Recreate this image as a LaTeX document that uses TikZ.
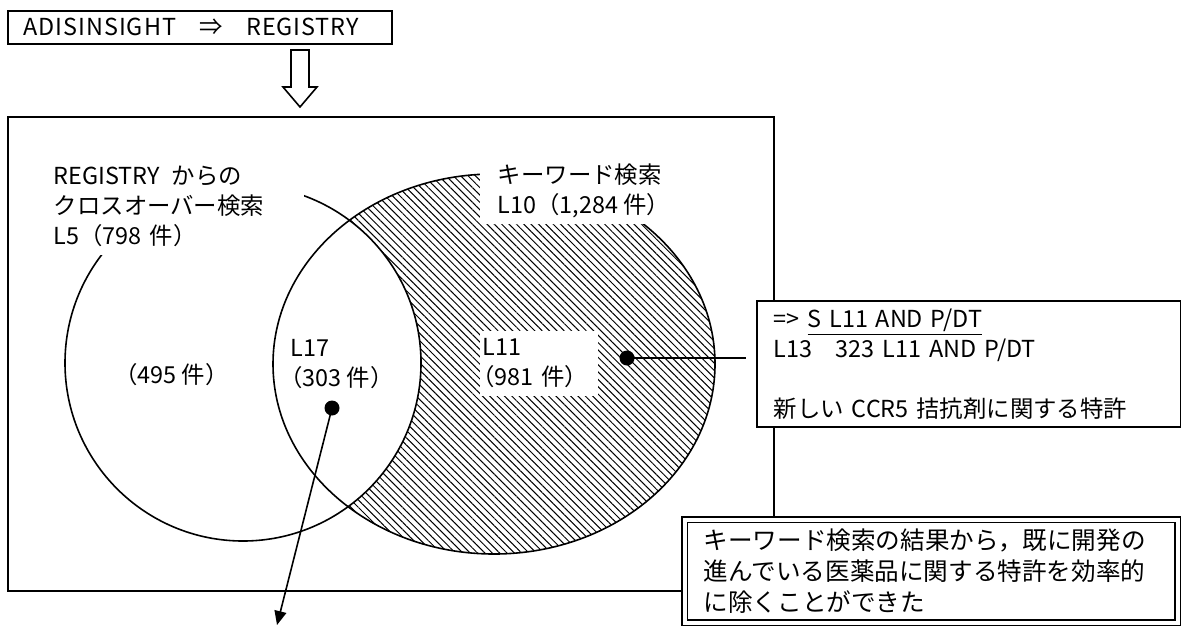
\documentclass[tikz,border=0pt]{standalone}
\usepackage{fontspec}
\setmainfont{Noto Sans CJK JP}
\usetikzlibrary{positioning,patterns.meta,arrows.meta}
\newcommand{\parsx}{\leavevmode\kern-.5em（}

\begin{document}
\begin{tikzpicture}[
    x=0.5pt, y=-0.5pt,
    line width=0.8pt,
    every node/.style={font=\fontsize{11.7}{15}\selectfont, inner sep=0pt, align=left},
    riquadro/.style={draw, fill=white, anchor=north west},
    etichetta/.style={fill=white, anchor=north west},
    tratteggio/.style={pattern={Lines[angle=-45, distance=2.6pt, line width=0.5pt]}},
    punto/.style={circle, fill, minimum size=7.5pt}
]
\useasboundingbox (0,0) rectangle (1181,627);

% Origine della ricerca
\node[riquadro, inner xsep=8pt, text width=176pt, minimum height=16.5pt] (sorgente) at (7,10)
    {\addfontfeatures{LetterSpace=4}ADISINSIGHT\quad ⇒\quad REGISTRY};
\draw[fill=white] (291,50) -- (291,87) -- (283,87) -- (300,107) -- (317,87) -- (309,87) -- (309,50) -- cycle;

% Riquadro principale
\draw (8,117) rectangle (774,591);

% Diagramma di Venn
\path[tratteggio] (494,364) ellipse [x radius=221, y radius=190];
\fill[white] (243,363) circle [radius=178];
\draw (494,364) ellipse [x radius=221, y radius=190];
\draw (243,363) circle [radius=178];

\node[etichetta, inner xsep=2.5pt, inner ysep=4pt, text width=122.5pt] (crossover) at (48,157)
    {REGISTRY\enspace からの\\ クロスオーバー検索\\ L5（798 件）};
\node[etichetta, inner xsep=9pt, inner ysep=3pt] (parole) at (479,157)
    {キーワード検索\\ L10（1,284 件）};
\node[etichetta, inner xsep=1.5pt, inner ysep=4pt, text width=56pt] (soloL11) at (479,330)
    {L11\\ \parsx981~件）};
\node[anchor=north west] (soloL17) at (290,339) {L17\\ \parsx303~件）};
\node[anchor=north west] (soloL5) at (125,363) {\parsx495~件）};

\node[punto] (puntoL17) at (332,408) {};
\node[punto] (puntoL11) at (627,358) {};

% Risultati
\node[riquadro, inner xsep=8.5pt, text width=195pt, minimum height=63pt] (ricerca) at (756,300)
    {=> \underline{S L11 AND P/DT}\\ L13\quad 323 L11 AND P/DT\\[15pt] 新しい CCR5 拮抗剤に関する特許};
\node[riquadro, double, double distance=2pt, line width=0.7pt, inner xsep=9.5pt, text width=227.5pt, minimum height=51.5pt,
      font=\fontsize{12.3}{15.5}\selectfont] (conclusione) at (684,519)
    {キーワード検索の結果から，既に開発の\\ 進んでいる医薬品に関する特許を効率的\\ に除くことができた};

\coordinate (fuori) at (277,625);
\draw[shorten >=5pt] (puntoL11.center) -- (ricerca.west |- puntoL11.center);
\draw[-{Triangle[length=7pt,width=6pt]}] (puntoL17.center) -- (fuori);
\end{tikzpicture}
\end{document}
